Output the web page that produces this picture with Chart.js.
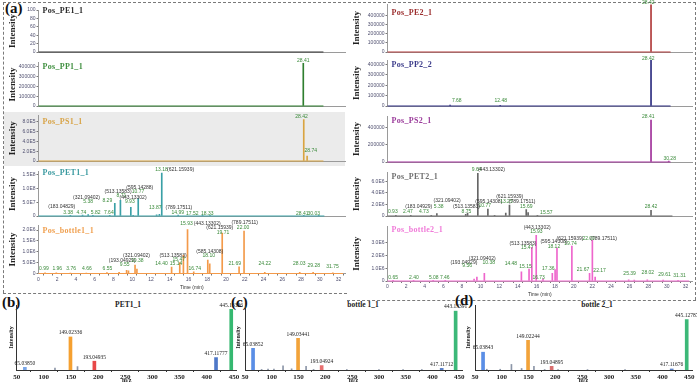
<!DOCTYPE html>
<html>
<head>
<meta charset="utf-8">
<script src="https://cdn.jsdelivr.net/npm/chart.js@4.4.1/dist/chart.umd.min.js"></script>
<style>
  html, body { margin: 0; padding: 0; background: #fff; }
  body { position: relative; width: 697px; height: 384px; overflow: hidden; font-family: "Liberation Serif", serif; }
  canvas { position: absolute; }
  .dash { position: absolute; border: 0 dashed #7a7a7a; }
  .lbl { position: absolute; white-space: nowrap; font-weight: bold; line-height: 1; }
  .letter { font-size: 15px; color: #111; }
  .ptitle { font-size: 8px; transform: translateY(-50%); letter-spacing: 0.3px; }
  .stitle { font-size: 7.5px; color: #222; transform: translate(-50%, -50%); }
  #band { position: absolute; left: 4px; top: 112px; width: 341px; height: 54px; background: #ebebeb; }
</style>
</head>
<body>
<div id="band"></div>
<div class="dash" style="left:3px;top:2px;width:693px;border-top-width:1px"></div>
<div class="dash" style="left:3px;top:2px;height:291px;border-left-width:1px"></div>
<div class="dash" style="left:695px;top:2px;height:298px;border-left-width:1px"></div>
<div class="dash" style="left:3px;top:293px;width:344px;border-top-width:1px"></div>
<div class="dash" style="left:347px;top:300px;width:349px;border-top-width:1px"></div>

<div class="lbl letter" style="left:5px;top:1px">(a)</div>
<div class="lbl letter" style="left:2px;top:295px">(b)</div>
<div class="lbl letter" style="left:231px;top:295px">(c)</div>
<div class="lbl letter" style="left:455px;top:293px">(d)</div>

<div class="lbl stitle" style="left:128px;top:305px">PET1_1</div>
<div class="lbl stitle" style="left:363px;top:305px">bottle 1_1</div>
<div class="lbl stitle" style="left:597px;top:305px">bottle 2_1</div>

<script>
// ---- chromatograms: [time (min), intensity] peaks, [time, intensity, text] labels ----
const pe1Peaks = [];
const pe1Labels = [];

const pp1Peaks = [[28.25, 438000]];
const pp1Labels = [[28.25, 467000, '28.41']];

const ps1Peaks = [[28.3, 840000], [28.66, 100000]];
const ps1Labels = [[28.06, 895000, '28.42'], [29.05, 210000, '28.74']];

const pet1Peaks = [
  [3.4, 1.5e6], [4.7, 3e6], [5.3, 5e6], [5.8, 1.5e6], [7.6, 1e6], [8.14, 4.6e7], [8.74, 5.7e7],
  [9.85, 3.1e7], [10.1, 1.5e6], [10.64, 6.3e7], [12.6, 4e6], [12.9, 6e6], [13.15, 1.55e8],
  [14.9, 3.5e6], [17.5, 1e6], [18.3, 5e5], [28.3, 1.5e6], [29.9, 5e5]
];
const pet1Labels = [
  [13.12, 1.696e8, '13.18'], [15.16, 1.696e8, '(621.15939)'],
  [10.8, 1.03e8, '(595.14288)'], [8.49, 8.81e7, '(513.13583)'], [10.62, 8.81e7, '10.77'],
  [8.85, 7.43e7, '8.71'], [10.09, 6.64e7, '(443.13302)'], [9.74, 5.16e7, '9.93'],
  [7.34, 5.71e7, '8.29'], [5.12, 6.64e7, '(321.09402)'], [5.29, 5.26e7, '5.38'],
  [2.48, 3.54e7, '(183.04829)'], [3.16, 1.14e7, '3.38'], [4.58, 1.14e7, '4.74'],
  [6.09, 1.14e7, '5.82'], [7.5, 1.14e7, '7.64'], [12.46, 2.86e7, '13.87'],
  [14.97, 2.86e7, '(789.17511)'], [14.86, 1.38e7, '14.99'], [16.4, 0.9e7, '17.52'],
  [18.0, 0.9e7, '18.33'], [28.14, 0.9e7, '28.41'], [29.37, 0.9e7, '30.03']
];

const bottle1Peaks = [
  [0.7, 3e4], [1.9, 3e4], [3.4, 2e4], [5.1, 2e4], [7.3, 4e4], [8.6, 5e4], [9.4, 1.5e5], [9.6, 1.2e5],
  [10.3, 3.9e5], [10.5, 2e5], [14.2, 2.9e5], [15.07, 5e5], [15.46, 8.5e5], [15.9, 2.02e6],
  [16.56, 8e4], [18.06, 6.2e5], [18.27, 4.5e5], [19.6, 1.86e6], [21.4, 3.1e5], [21.93, 1.95e6],
  [24.14, 5e4], [27.87, 5e4], [29.3, 5e4], [31.4, 3e4]
];
const bottle1Labels = [
  [15.79, 2.31e6, '15.93'], [18.0, 2.31e6, '(443.13302)'], [19.34, 2.11e6, '(621.15939)'],
  [19.69, 1.88e6, '19.71'], [22.0, 2.34e6, '(789.17511)'], [21.83, 2.11e6, '22.00'],
  [14.36, 8.2e5, '(513.13583)'], [14.97, 6.2e5, '15.47'], [18.27, 1.0e6, '(585.14308)'],
  [18.17, 8.2e5, '18.10'], [14.68, 4.7e5, '15.14'], [13.12, 4.7e5, '14.40'],
  [8.94, 5.9e5, '(193.04929)'], [9.2, 3.9e5, '9.55'], [10.45, 8.0e5, '(321.09402)'],
  [10.54, 5.9e5, '10.38'], [7.36, 2.4e5, '6.55'], [0.58, 2.2e5, '0.99'], [2.0, 2.2e5, '1.96'],
  [3.48, 2.2e5, '3.76'], [5.17, 2.2e5, '4.66'], [16.67, 2.2e5, '16.74'], [20.94, 4.4e5, '21.69'],
  [24.14, 4.4e5, '24.22'], [27.82, 4.4e5, '28.03'], [29.36, 3.5e5, '29.28'], [31.37, 3.0e5, '31.75']
];

const pe2Peaks = [[28.3, 520000]];
const pe2Labels = [[28.0, 543000, '28.42']];

const pp2Peaks = [[6.72, 8000], [12.1, 4000], [28.3, 445000]];
const pp2Labels = [[28.0, 455000, '28.42'], [7.44, 52000, '7.68'], [12.16, 52000, '12.48']];

const ps2Peaks = [[28.3, 490000], [30.2, 12000]];
const ps2Labels = [[28.0, 529000, '28.41'], [30.3, 40000, '30.28']];

const pet2Peaks = [
  [0.9, 5e4], [2.5, 5e4], [4.7, 1e5], [5.3, 4e5], [8.4, 3e5], [8.6, 5e5], [9.7, 7.4e6], [10.78, 1.2e6],
  [11.5, 1e5], [12.7, 5e5], [13.1, 1.9e6], [14.9, 1.1e6], [15.1, 6e5], [16.1, 1e5], [28.3, 1.0e6]
];
const pet2Labels = [
  [9.58, 8.05e6, '9.64'], [11.16, 8.05e6, '(443.13302)'], [13.12, 3.4e6, '(621.15939)'],
  [10.88, 2.43e6, '(595.14308)'], [12.77, 2.43e6, '13.25'], [14.46, 2.43e6, '(789.17511)'],
  [10.44, 1.73e6, '10.77'], [14.9, 1.57e6, '15.69'], [8.48, 1.57e6, '(513.13583)'],
  [8.48, 0.81e6, '8.75'], [6.4, 2.7e6, '(321.09402)'], [3.36, 1.57e6, '(183.04929)'],
  [5.5, 1.57e6, '5.38'], [3.9, 0.76e6, '4.73'], [2.2, 0.76e6, '2.47'], [0.57, 0.76e6, '0.93'],
  [17.06, 0.53e6, '15.57'], [28.3, 1.57e6, '28.42']
];

const bottle2Peaks = [
  [0.6, 5e4], [2.8, 3e4], [4.9, 3e4], [6.2, 5e4], [9.3, 1.5e5], [9.6, 3e5], [10.4, 6e5], [14.38, 7.3e5],
  [15.2, 9.5e5], [15.5, 2.65e6], [15.97, 3.6e6], [16.7, 1.5e5], [17.7, 6e5], [18.0, 9e5], [18.2, 2.6e6],
  [19.8, 2.75e6], [21.7, 6e5], [22.0, 3.2e6], [22.3, 3e5], [25.9, 1e5], [26.5, 8e4], [27.9, 1e5],
  [29.6, 8e4], [31.2, 5e4]
];
const bottle2Labels = [
  [16.07, 4.24e6, '(443.13302)'], [15.99, 3.89e6, '15.93'], [19.6, 3.37e6, '(621.15939)'],
  [19.65, 2.98e6, '19.74'], [21.6, 3.37e6, '22.00'], [23.2, 3.37e6, '(789.17511)'],
  [17.87, 3.1e6, '(595.14308)'], [17.87, 2.75e6, '18.12'], [14.55, 2.98e6, '(513.13583)'],
  [15.0, 2.63e6, '15.47'], [14.82, 1.13e6, '15.15'], [13.25, 1.34e6, '14.48'],
  [17.27, 1.0e6, '17.36'], [16.23, 0.29e6, '16.73'], [10.17, 1.79e6, '(321.09402)'],
  [10.87, 1.48e6, '10.38'], [8.2, 1.48e6, '(193.04929)'], [8.56, 1.18e6, '9.56'],
  [6.15, 0.29e6, '7.46'], [4.97, 0.29e6, '5.08'], [2.84, 0.29e6, '2.40'], [0.6, 0.29e6, '0.65'],
  [20.99, 0.92e6, '21.67'], [22.78, 0.81e6, '22.17'], [26.0, 0.55e6, '25.39'],
  [27.96, 0.69e6, '28.02'], [29.75, 0.47e6, '29.61'], [31.36, 0.42e6, '31.31']
];

// ---- MS spectra: m/z and relative intensity ----
const pet1Mz = [65.03850, 149.02336, 193.04935, 417.11777, 445.13336];
const pet1Int = [5, 55, 15, 21, 100];
const pet1MinorMz = [120.5, 162];
const pet1MinorInt = [3, 5.5];

const b1Mz = [65.03852, 149.03441, 193.04924, 417.11712, 443.13391];
const b1Int = [37, 54, 8, 3.5, 100];
const b1MinorMz = [81, 93, 104, 121, 137, 164, 178, 240, 300, 345, 380];
const b1MinorInt = [1, 1.5, 1.5, 7, 2, 6, 1, 0.8, 0.8, 0.8, 0.8];

const b2Mz = [65.03843, 149.02244, 193.04895, 417.11676, 445.12787];
const b2Int = [36, 59, 8, 3, 100];
const b2MinorMz = [72, 97, 118, 137, 160, 180, 205, 260, 330];
const b2MinorInt = [1.5, 1.5, 11, 3, 7, 1, 0.8, 0.8, 0.8];

const timeTicks = [];
for (let m = 0; m <= 32; m++) timeTicks.push(m);
const mzTicks = [50, 100, 150, 200, 250, 300, 350, 400, 450];

const cols = {
  L: { left: 4, areaLeft: 38.5, areaRight: 345, titlePad: 3.3 },
  R: { left: 346, areaLeft: 387.5, areaRight: 692, titlePad: 5.3 }
};

const panels = [
  { name: 'Pos_PE1_1', col: 'L', top: 10, bottom: 54.5, max: 100, step: 20, tickMax: 100, sci: false, color: '#333333', tcolor: '#2a2a2a', end: 30.4, peaks: pe1Peaks, labels: pe1Labels, ty: 11 },
  { name: 'Pos_PP1_1', col: 'L', top: 62.8, bottom: 109, max: 440000, step: 100000, tickMax: 400000, sci: false, color: '#2f7f2f', tcolor: '#3f8f3f', end: 30.4, peaks: pp1Peaks, labels: pp1Labels, ty: 67 },
  { name: 'Pos_PS1_1', col: 'L', top: 115.7, bottom: 164, max: 920000, step: 200000, tickMax: 800000, sci: true, color: '#d9a441', tcolor: '#d8a448', end: 30.4, peaks: ps1Peaks, labels: ps1Labels, ty: 122 },
  { name: 'Pos_PET1_1', col: 'L', top: 171.8, bottom: 218.3, max: 1.6e8, step: 5e7, tickMax: 1.5e8, sci: true, color: '#3aa0a6', tcolor: '#3a9aa0', end: 30.5, peaks: pet1Peaks, labels: pet1Labels, ty: 173 },
  { name: 'Pos_bottle1_1', col: 'L', top: 225.7, bottom: 273.5, max: 2.2e6, step: 5e5, tickMax: 2e6, sci: true, color: '#f39a4a', tcolor: '#f0a050', end: 32.5, peaks: bottle1Peaks, labels: bottle1Labels, ty: 231, axis: true },
  { name: 'Pos_PE2_1', col: 'R', top: 3.6, bottom: 54.3, max: 530000, step: 100000, tickMax: 400000, sci: false, color: '#b03a3a', tcolor: '#9b2d2d', end: 30.4, peaks: pe2Peaks, labels: pe2Labels, ty: 13 },
  { name: 'Pos_PP2_2', col: 'R', top: 60, bottom: 109, max: 445000, step: 100000, tickMax: 400000, sci: false, color: '#2d2d80', tcolor: '#3b3b8a', end: 30.4, peaks: pp2Peaks, labels: pp2Labels, ty: 65 },
  { name: 'Pos_PS2_1', col: 'R', top: 116.2, bottom: 164.3, max: 535000, step: 200000, tickMax: 400000, sci: false, color: '#a0309a', tcolor: '#9a3a9a', end: 30.4, peaks: ps2Peaks, labels: ps2Labels, ty: 121 },
  { name: 'Pos_PET2_1', col: 'R', top: 172.1, bottom: 219, max: 7.6e6, step: 2e6, tickMax: 6e6, sci: true, color: '#666666', tcolor: '#707070', end: 30.6, peaks: pet2Peaks, labels: pet2Labels, ty: 177 },
  { name: 'Pos_bottle2_1', col: 'R', top: 226.5, bottom: 281, max: 4.3e6, step: 1e6, tickMax: 3e6, sci: true, color: '#ee66cc', tcolor: '#f07ad8', end: 32.4, peaks: bottle2Peaks, labels: bottle2Labels, ty: 230, axis: true }
];

const specs = [
  { mz: pet1Mz, int: pet1Int, minorMz: pet1MinorMz, minorInt: pet1MinorInt, left: 4, areaLeft: 16.7, areaRight: 236.6, max: 106.6, titlePad: 4.1,
    fill: ['#7aa6e8', '#f5a030', '#e84848', '#4f78c8', '#35b870'] },
  { mz: b1Mz, int: b1Int, minorMz: b1MinorMz, minorInt: b1MinorInt, left: 231, areaLeft: 245, areaRight: 462, max: 109.6, titlePad: 3.7,
    fill: ['#5a8ee6', '#f2a33a', '#e87070', '#5c82c8', '#3cb878'] },
  { mz: b2Mz, int: b2Int, minorMz: b2MinorMz, minorInt: b2MinorInt, left: 461, areaLeft: 475, areaRight: 692, max: 128, titlePad: 3.7,
    fill: ['#5a8ee6', '#f2a33a', '#d97070', '#5c82c8', '#3cb878'] }
];

function canvasAt(left, top, w, h) {
  const c = document.createElement('canvas');
  c.width = w; c.height = h;
  c.style.left = left + 'px'; c.style.top = top + 'px';
  document.body.appendChild(c);
  return c;
}

function fmt(v, sci) {
  if (v === 0) return '0';
  if (!sci) return String(v);
  return v.toExponential(1).toUpperCase().replace('+', '');
}

function stepTicks(max, step) {
  const out = [];
  for (let i = 0; i * step <= max * (1 + 1e-9); i++) out.push({ value: i * step });
  return out;
}

function peakText(labels) {
  return {
    id: 'peakText',
    afterDatasetsDraw(chart) {
      const { ctx, scales: { x, y } } = chart;
      ctx.save();
      ctx.font = '5px "Liberation Sans"';
      ctx.textAlign = 'center';
      ctx.textBaseline = 'middle';
      labels.forEach(([t, v, s]) => {
        ctx.fillStyle = s[0] === '(' ? '#333333' : '#3a8a3a';
        ctx.fillText(s, x.getPixelForValue(t), y.getPixelForValue(v));
      });
      ctx.restore();
    }
  };
}

function chromPanel(p) {
  const c = cols[p.col];
  const cTop = Math.max(0, Math.floor(p.top - 8));
  const padTop = p.top - cTop;
  const xh = p.axis ? 17 : 1;
  const inner = padTop + (p.bottom - p.top) + xh;
  const h = Math.ceil(inner);
  const w = Math.ceil(c.areaRight + 6 - c.left);
  const cv = canvasAt(c.left, cTop, w, h);

  const t = document.createElement('div');
  t.className = 'lbl ptitle';
  t.textContent = p.name;
  t.style.left = (c.areaLeft + 4) + 'px';
  t.style.top = p.ty + 'px';
  t.style.color = p.tcolor;
  document.body.appendChild(t);

  new Chart(cv, {
    type: 'bar',
    data: {
      datasets: [
        { type: 'line', data: [{ x: 0, y: 0 }, { x: p.end, y: 0 }], borderColor: p.color, borderWidth: 1, pointRadius: 0, clip: 4, order: 1 },
        { data: p.peaks.map(([x, y]) => ({ x, y })), backgroundColor: p.color, barThickness: 1, grouped: false, order: 0 }
      ]
    },
    options: {
      responsive: false, animation: false, events: [],
      layout: { padding: { top: padTop, right: w - (c.areaRight - c.left), bottom: h - inner, left: 0 } },
      plugins: { legend: { display: false }, tooltip: { enabled: false } },
      scales: {
        x: {
          type: 'linear', min: 0, max: 32.7, offset: false,
          grid: { display: !!p.axis, drawOnChartArea: false, tickLength: 2, color: '#777' },
          border: { display: true, color: '#9a9a9a' },
          ticks: {
            display: !!p.axis, autoSkip: false, maxRotation: 0, padding: 1,
            color: '#505070', font: { size: 5, family: 'Liberation Sans' },
            callback: v => (v % 2 === 0 ? String(v) : '')
          },
          afterBuildTicks: s => { s.ticks = timeTicks.map(v => ({ value: v })); },
          title: { display: !!p.axis, text: 'Time (min)', color: '#333', font: { size: 5, family: 'Liberation Sans' }, padding: 0 },
          afterFit: s => { s.height = xh; }
        },
        y: {
          min: 0, max: p.max,
          grid: { display: true, drawOnChartArea: false, tickLength: 2, color: '#777' },
          border: { color: '#9a9a9a' },
          ticks: {
            autoSkip: false, padding: 1,
            color: '#505070', font: { size: 5, family: 'Liberation Sans' },
            callback: v => fmt(v, p.sci)
          },
          afterBuildTicks: s => { s.ticks = stepTicks(p.tickMax, p.step); },
          title: { display: true, text: 'Intensity', color: '#222', font: { size: 9, weight: 'bold', family: 'Liberation Serif' }, padding: { top: c.titlePad, bottom: 0 } },
          afterFit: s => { s.width = c.areaLeft - c.left; }
        }
      }
    },
    plugins: [peakText(p.labels)]
  });
}

function spectrum(s) {
  const cTop = 298, areaTop = 305, areaBottom = 370;
  const h = 384 - cTop;
  const w = Math.ceil(s.areaRight + 12 - s.left);
  const cv = canvasAt(s.left, cTop, w, h);
  new Chart(cv, {
    type: 'bar',
    data: {
      datasets: [
        { data: s.minorMz.map((m, i) => ({ x: m, y: s.minorInt[i] })), backgroundColor: '#8c96a8', barThickness: 1, grouped: false, order: 1 },
        { data: s.mz.map((m, i) => ({ x: m, y: s.int[i] })), backgroundColor: s.fill, borderColor: 'rgba(255,255,255,0.45)',
          borderWidth: { left: 1, right: 1, top: 0, bottom: 0 }, barThickness: 5, grouped: false, order: 0 }
      ]
    },
    options: {
      responsive: false, animation: false, events: [],
      layout: { padding: { top: areaTop - cTop, right: w - (s.areaRight - s.left), bottom: 0, left: 0 } },
      plugins: { legend: { display: false }, tooltip: { enabled: false } },
      scales: {
        x: {
          type: 'linear', min: 50, max: 455, offset: false,
          grid: { drawOnChartArea: false, tickLength: 2, color: '#333' },
          border: { color: '#333' },
          ticks: { autoSkip: false, maxRotation: 0, padding: 1,
            color: '#222', font: { size: 7, weight: 'bold', family: 'Liberation Serif' } },
          afterBuildTicks: sc => { sc.ticks = mzTicks.map(v => ({ value: v })); },
          title: { display: true, text: 'm/z', color: '#222', font: { size: 6, weight: 'bold', family: 'Liberation Serif' }, padding: 0 },
          afterFit: sc => { sc.height = h - (areaBottom - cTop); }
        },
        y: {
          min: 0, max: s.max,
          grid: { display: false },
          border: { color: '#333' },
          ticks: { display: false },
          title: { display: true, text: 'Intensity', color: '#222', font: { size: 6, weight: 'bold', family: 'Liberation Serif' }, padding: { top: s.titlePad, bottom: 0 } },
          afterFit: sc => { sc.width = s.areaLeft - s.left; }
        }
      }
    },
    plugins: [{
      id: 'ionText',
      afterDatasetsDraw(chart) {
        const ctx = chart.ctx;
        const meta = chart.getDatasetMeta(1);
        ctx.save();
        ctx.font = '5.5px "Liberation Serif"';
        ctx.fillStyle = '#222';
        ctx.textAlign = 'center';
        ctx.textBaseline = 'bottom';
        meta.data.forEach((bar, i) => ctx.fillText(s.mz[i].toFixed(5), bar.x, bar.y - 1));
        ctx.restore();
      }
    }]
  });
}

panels.forEach(chromPanel);
specs.forEach(spectrum);
</script>
</body>
</html>
